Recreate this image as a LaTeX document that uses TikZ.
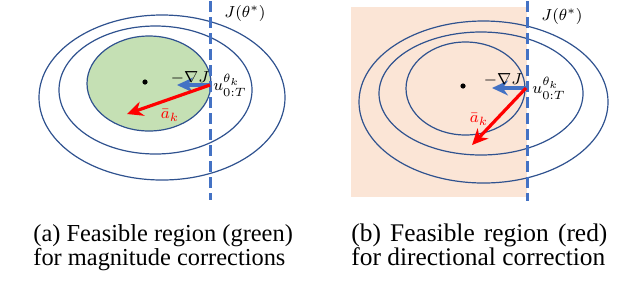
\documentclass[tikz,border=0pt]{standalone}
\usepackage{fontspec}
\setmainfont{Liberation Serif}
\usepackage{amsmath}
\usetikzlibrary{arrows.meta,positioning}
\definecolor{contour}{HTML}{2F528F}
\definecolor{bound}{HTML}{4472C4}
\definecolor{feasgreen}{HTML}{C5E0B4}
\definecolor{feaspeach}{HTML}{FBE5D6}
\definecolor{corr}{HTML}{FF0000}
\tikzset{
  contourline/.style={draw=contour, line width=0.6pt},
  boundary/.style={draw=bound, line width=1.5pt, dash pattern=on 5.5pt off 2.5pt},
  gradarr/.style={-{Stealth[length=2.8mm,width=2.6mm]}, line width=1.6pt, draw=bound},
  corrarr/.style={-{Stealth[length=2.8mm,width=2.6mm]}, line width=1.6pt, draw=corr},
  optdot/.style={circle, fill=black, inner sep=0pt, minimum size=2.6pt},
  mathlbl/.style={font=\fontsize{8.5}{10}\selectfont, inner sep=1pt},
  captext/.style={font=\fontsize{12.2}{12}\selectfont, inner sep=0pt, anchor=base west},
  capwide/.style={captext, font=\fontsize{12.7}{12}\selectfont}
}

\begin{document}
\begin{tikzpicture}[x=0.5pt, y=-0.5pt]
    \useasboundingbox (0,0) rectangle (640,296);
    % (a) magnitude correction
    \fill[feasgreen] (149,83.5) ellipse [x radius=62, y radius=47.5];
    \draw[contourline] (149,83.5) ellipse [x radius=62, y radius=47.5];
    \draw[contourline] (155.5,90) ellipse [x radius=96.5, y radius=64];
    \draw[contourline] (162,97.5) ellipse [x radius=123, y radius=82.5];
    \coordinate (topa) at (210,1);
    \coordinate (bota) at (210,200);
    \draw[boundary] (topa) -- (bota);
    \node[optdot] (opta) at (145,82) {};
    \coordinate (ua) at (210,85);
    \coordinate (ga) at (177,85);
    \coordinate (aa) at (127,114);
    \draw[gradarr] (ua) -- (ga);
    \draw[corrarr] (ua) -- (aa);
    \node[mathlbl] (grada) at (190,78) {$-\nabla J$};
    \node[mathlbl, right=0.5pt of ua] (ulbla) {$u^{\theta_k}_{0:T}$};
    \node[mathlbl, text=corr] (abara) at (170,115) {$\bar{a}_k$};
    \node[mathlbl] (jstara) at (245,13) {$J(\theta^*)$};
    % (b) directional correction
    \fill[feaspeach] (351,7) rectangle (527,197);
    \draw[contourline] (465.5,88.5) ellipse [x radius=59.5, y radius=46.5];
    \draw[contourline] (481,93.5) ellipse [x radius=102, y radius=61.5];
    \draw[contourline] (483.5,102) ellipse [x radius=124.5, y radius=81];
    \coordinate (topb) at (527,1);
    \coordinate (botb) at (527,201);
    \draw[boundary] (topb) -- (botb);
    \node[optdot] (optb) at (463,86) {};
    \coordinate (ub) at (526,88);
    \coordinate (gb) at (492,88);
    \coordinate (ab) at (472,145);
    \draw[gradarr] (ub) -- (gb);
    \draw[corrarr] (ub) -- (ab);
    \node[mathlbl] (gradb) at (503,80) {$-\nabla J$};
    \node[mathlbl, right=2pt of ub] (ulblb) {$u^{\theta_k}_{0:T}$};
    \node[mathlbl, text=corr] (abarb) at (479,119) {$\bar{a}_k$};
    \node[mathlbl] (jstarb) at (562,16) {$J(\theta^*)$};
    % captions
    \node[captext] (capa1) at (33,241) {(a) Feasible region (green)};
    \node[captext] (capa2) at (33,265.5) {for magnitude corrections};
    \node[capwide] (capb1) at (351,241) {\makebox[128pt][s]{(b) Feasible region (red)}};
    \node[capwide] (capb2) at (351,265.5) {for directional correction};
  \end{tikzpicture}
\end{document}
